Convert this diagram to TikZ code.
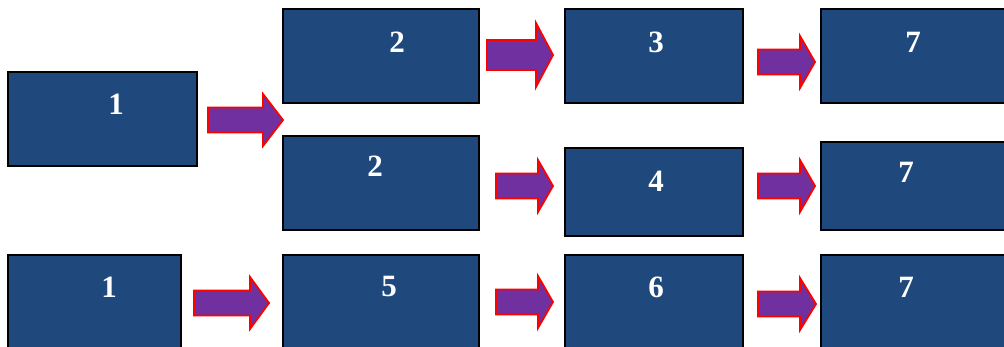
\documentclass[tikz,border=0pt]{standalone}
\usepackage{fontspec}
\setmainfont{Liberation Serif}
\definecolor{boxblue}{RGB}{31,73,125}
\definecolor{arrpurple}{RGB}{112,48,160}
\newcommand\blockarrow[6]{%
  \draw[barrow] (#1,{#4-#5}) -- (#2,{#4-#5}) -- (#2,{#4-#6}) -- (#3,#4) -- (#2,{#4+#6}) -- (#2,{#4+#5}) -- (#1,{#4+#5}) -- cycle;}
\begin{document}
\begin{tikzpicture}[x=1pt,y=-1pt,
  box/.style={draw=black, line width=2pt, fill=boxblue, inner sep=0pt},
  num/.style={text=white, font=\bfseries\fontsize{31}{31}\selectfont, inner sep=0pt},
  barrow/.style={draw=red, line width=1.8pt, fill=arrpurple, line join=miter}]
\useasboundingbox (0,0) rectangle (1004,347);
\clip (0,0) rectangle (1004,347);
% boxes
\node[box, minimum width=189pt, minimum height=94pt] (b1a) at (102.5,119) {};
\node[box, minimum width=196pt, minimum height=94pt] (b2a) at (381,56) {};
\node[box, minimum width=178pt, minimum height=94pt] (b3) at (654,56) {};
\node[box, minimum width=189pt, minimum height=94pt] (b7a) at (915.5,56) {};
\node[box, minimum width=196pt, minimum height=94pt] (b2b) at (381,183) {};
\node[box, minimum width=178pt, minimum height=88pt] (b4) at (654,192) {};
\node[box, minimum width=189pt, minimum height=88pt] (b7b) at (915.5,186) {};
\node[box, minimum width=173pt, minimum height=100pt] (b1b) at (94.5,305) {};
\node[box, minimum width=196pt, minimum height=100pt] (b5) at (381,305) {};
\node[box, minimum width=178pt, minimum height=100pt] (b6) at (654,305) {};
\node[box, minimum width=189pt, minimum height=100pt] (b7c) at (915.5,305) {};
% labels
\node[num] (t1a) at (116,104) {1};
\node[num] (t2a) at (397,42) {2};
\node[num] (t3) at (656,42) {3};
\node[num] (t7a) at (913,42) {7};
\node[num] (t2b) at (375,166) {2};
\node[num] (t4) at (656,181) {4};
\node[num] (t7b) at (906,172) {7};
\node[num] (t1b) at (109,287) {1};
\node[num] (t5) at (389,287) {5};
\node[num] (t6) at (656,287) {6};
\node[num] (t7c) at (906,287) {7};
% block arrows
\blockarrow{208}{263}{283}{120}{12.5}{26}
\blockarrow{487}{536}{553}{55}{15}{32}
\blockarrow{758}{800}{815}{62}{12.5}{26}
\blockarrow{496}{538}{553}{186}{12.5}{26}
\blockarrow{758}{800}{815}{186}{12.5}{26}
\blockarrow{194}{250}{269}{303}{12.5}{26}
\blockarrow{496}{538}{553}{302}{12.5}{26}
\blockarrow{758}{800}{816}{304}{12.5}{26}
\end{tikzpicture}
\end{document}
